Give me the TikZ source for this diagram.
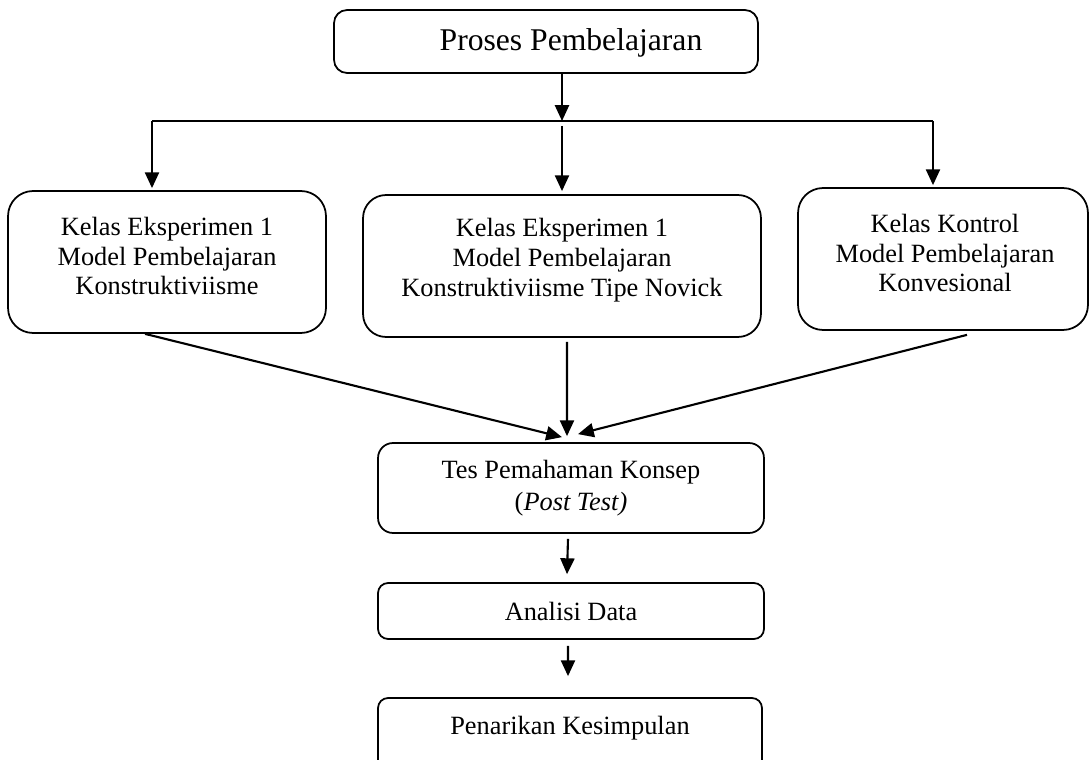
\documentclass[tikz,border=0pt]{standalone}
\usepackage{fontspec}
\setmainfont{Liberation Serif}
\usetikzlibrary{arrows.meta,positioning}
\tikzset{
  % kotak proses, sudut membulat
  kotak/.style={draw=black, rounded corners=#1, line width=1pt, inner sep=0pt},
  kotak/.default=5pt,
  % teks dalam kotak
  isi/.style={align=center, font=\fontsize{15}{17}\selectfont, inner sep=0pt},
  % panah
  panah/.style={-{Triangle[length=9pt,width=8pt]}, line width=1.2pt},
  garis/.style={line width=0.8pt},
}

\begin{document}
\begin{tikzpicture}[x=0.02cm, y=-0.02cm]
  \useasboundingbox (0,0) rectangle (1090,760);

  % atas
  \node[kotak=0.26cm, minimum width=8.48cm, minimum height=1.26cm] (proses) at (546,41.5) {};
  \node[isi, font=\fontsize{18}{21}\selectfont] (prosesTeks) at (571,43) {Proses Pembelajaran};

  \coordinate (garisKiri) at (152,121);
  \coordinate (garisTengah) at (562,121);
  \coordinate (garisKanan) at (933,121);

  % tiga kelas
  \node[kotak=0.5cm, minimum width=6.36cm, minimum height=2.84cm] (k1) at (167,262) {};
  \node[isi] (k1Teks) at (167,256) {Kelas Eksperimen 1\\Model Pembelajaran\\Konstruktiviisme};
  \node[kotak=0.46cm, minimum width=7.96cm, minimum height=2.84cm] (k2) at (562,266) {};
  \node[isi] (k2Teks) at (562,260) {Kelas Eksperimen 1\\Model Pembelajaran\\Konstruktiviisme Tipe Novick};
  \node[kotak=0.5cm, minimum width=5.8cm, minimum height=2.84cm] (k3) at (943,259) {};
  \node[isi] (k3Teks) at (945,253) {Kelas Kontrol\\Model Pembelajaran\\Konvesional};

  % bawah
  \node[kotak=0.3cm, minimum width=7.72cm, minimum height=1.8cm, isi,
        font=\fontsize{15}{18}\selectfont] (tes) at (571,488)
    {Tes Pemahaman Konsep\\(\textit{Post Test)}};
  \node[kotak=0.2cm, minimum width=7.72cm, minimum height=1.12cm, isi] (analisi) at (571,611)
    {Analisi Data};
  \node[kotak=0.2cm, minimum width=7.68cm, minimum height=1.44cm] (tarik) at (570,734) {};
  \node[isi] (tarikTeks) at (570,728) {Penarikan Kesimpulan};

  % penghubung
  \draw[panah] (proses.south -| garisTengah) -- (garisTengah);
  \draw[garis] (garisKiri) -- (garisKanan);
  \draw[panah] ([yshift=-0.1cm]garisTengah) -- ([yshift=0.06cm]k2.north -| garisTengah);
  \draw[panah] (garisKiri) -- ([yshift=0.04cm]k1.north -| garisKiri);
  \draw[panah] (garisKanan) -- ([yshift=0.04cm]k3.north -| garisKanan);

  \draw[panah] ([xshift=-0.44cm]k1.south) -- ([xshift=-0.18cm,yshift=0.1cm]tes.north);
  \draw[panah] ([xshift=0.1cm,yshift=-0.08cm]k2.south) -- ([xshift=-0.08cm,yshift=0.12cm]tes.north);
  \draw[panah] ([xshift=0.48cm,yshift=-0.08cm]k3.south) -- ([xshift=0.14cm,yshift=0.16cm]tes.north);
  \draw[panah] ([xshift=-0.06cm,yshift=-0.1cm]tes.south) -- ([xshift=-0.08cm,yshift=0.16cm]analisi.north);
  \draw[panah] ([xshift=-0.06cm,yshift=-0.12cm]analisi.south) -- ([xshift=-0.04cm,yshift=0.42cm]tarik.north);
\end{tikzpicture}
\end{document}
